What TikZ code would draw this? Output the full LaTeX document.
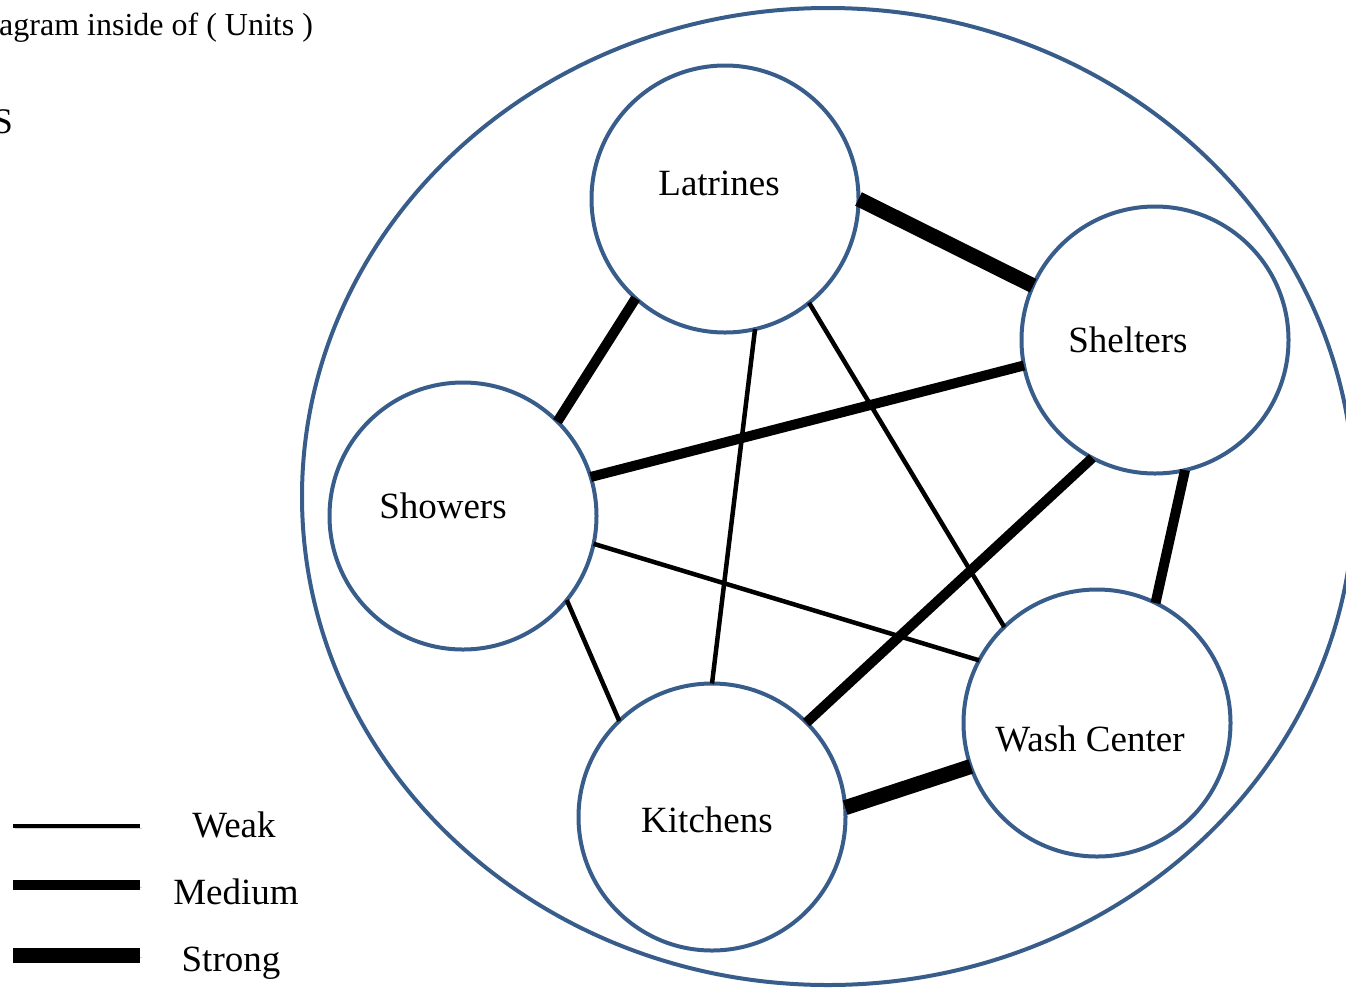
\documentclass[tikz,border=0pt]{standalone}
\usepackage{fontspec}
\setmainfont{Liberation Serif}
\definecolor{ringblue}{HTML}{385D8A}
\begin{document}
\begin{tikzpicture}[x=1pt,y=-1pt,
  unit/.style={circle,draw=ringblue,line width=4pt,minimum size=267pt,inner sep=0pt,outer sep=0pt,fill=white},
  lbl/.style={anchor=base,inner sep=0pt,font=\fontsize{37}{44}\selectfont},
  shadowed/.style={preaction={draw=black,opacity=.18,transform canvas={shift={(1.5pt,-2.5pt)}}}},
  weak/.style={line width=4.5pt,shadowed},
  medium/.style={line width=10pt,shadowed},
  strong/.style={line width=15pt,shadowed}]
\useasboundingbox (0,0) rectangle (1346,989);
\clip (0,0) rectangle (1346,989);

% header text
\node[anchor=base west,inner sep=0pt,font=\fontsize{32}{38}\selectfont] (hdr) at (-1,35) {agram inside of ( Units )};
\node[anchor=base east,inner sep=0pt,font=\fontsize{36}{42}\selectfont] (hdr2) at (13,133) {S};

% enclosing boundary
\draw[ringblue,line width=4pt] (828,496.5) ellipse [x radius=526pt,y radius=488.5pt];

% units
\node[unit] (lat) at (725,199) {};
\node[unit] (she) at (1155,340) {};
\node[unit] (sho) at (463,516) {};
\node[unit] (was) at (1097,723) {};
\node[unit] (kit) at (712,817) {};

\node[lbl] (latT) at (719,195) {Latrines};
\node[lbl] (sheT) at (1128,352) {Shelters};
\node[lbl] (shoT) at (443,518) {Showers};
\node[lbl] (wasT) at (1090,751) {Wash Center};
\node[lbl] (kitT) at (707,832) {Kitchens};

% relationships
\draw[strong] (lat.0) -- (she.156.5);
\draw[medium] (lat.-132.5) -- (sho.45.3);
\draw[weak] (lat.-77.3) -- (kit.90);
\draw[weak] (lat.-51.5) -- (was.134.4);
\draw[medium] (she.-169.5) -- (sho.17);
\draw[medium] (she.-118) -- (kit.45.3);
\draw[medium] (she.-77) -- (was.64.4);
\draw[weak] (sho.-12.4) -- (was.152.9);
\draw[weak] (sho.-39.8) -- (kit.134.7);
\draw[strong] (kit.4.8) -- (was.-161.8);

% legend
\coordinate (wA) at (13,826);  \coordinate (wB) at (140,826);
\coordinate (mA) at (13,885);  \coordinate (mB) at (140,885);
\coordinate (sA) at (13,955);  \coordinate (sB) at (140,955);
\draw[weak] (wA) -- (wB);
\draw[medium] (mA) -- (mB);
\draw[strong] (sA) -- (sB);
\node[lbl] (wT) at (234,837) {Weak};
\node[lbl] (mT) at (236,904) {Medium};
\node[lbl] (sT) at (231,971) {Strong};
\end{tikzpicture}
\end{document}
